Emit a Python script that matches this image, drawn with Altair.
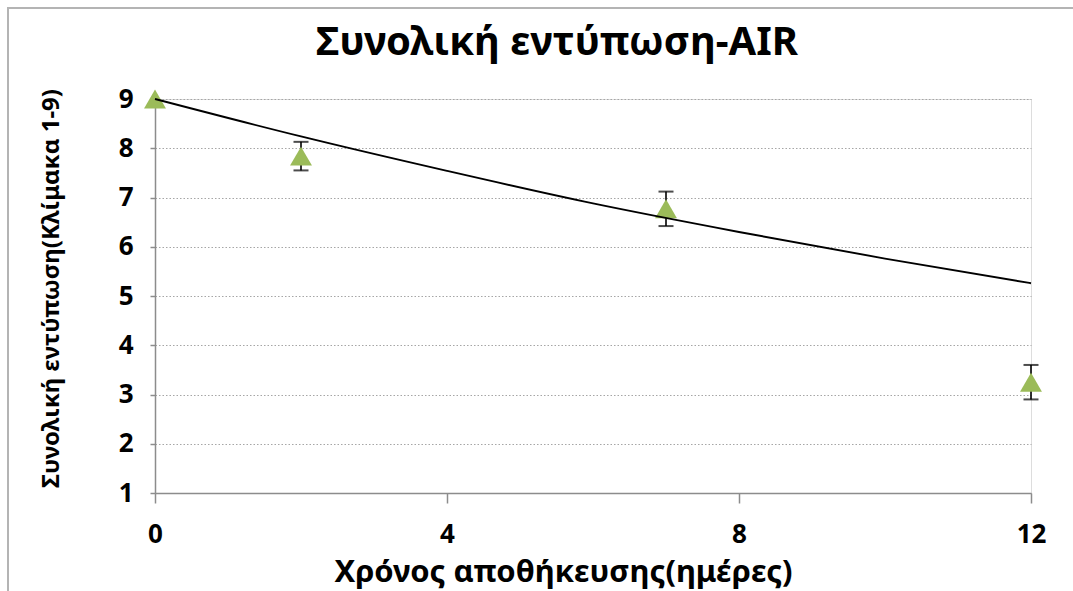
import altair as alt
import pandas as pd

# Storage time (days), mean overall-impression score and its error
days = [0, 2, 7, 12]
score = [9.0, 7.84, 6.77, 3.25]
err = [0.0, 0.29, 0.35, 0.35]

# Trend line readings
trend_days = [0, 2, 4, 6, 8, 10, 12]
trend_score = [9.0, 8.24, 7.54, 6.88, 6.30, 5.76, 5.26]

x_ticks = [0, 4, 8, 12]
y_ticks = [1, 2, 3, 4, 5, 6, 7, 8, 9]

FONT = "Noto Sans"
W, H = 876, 394
LEFT, TOP = 155, 99

pts = pd.DataFrame({"day": days, "score": score, "err": err})
trend = pd.DataFrame({"day": trend_days, "score": trend_score})

x_scale = alt.Scale(domain=[0, 12], nice=False, zero=False)
y_scale = alt.Scale(domain=[1, 9], nice=False, zero=False)

x_axis = alt.Axis(
    values=x_ticks, format="d", title="Χρόνος αποθήκευσης(ημέρες)", grid=False,
    domainColor="#8c8c8c", domainWidth=1.5, tickColor="#8c8c8c", tickWidth=1.5,
    tickSize=10, labelPadding=18, labelFlush=False, labelFont=FONT, labelFontSize=26,
    labelFontWeight="bold", labelColor="#000000",
    titleFont=FONT, titleFontSize=31, titleFontWeight="bold", titleColor="#000000",
    titleX=408, titleY=79, titleBaseline="middle", titleAlign="center",
)
y_axis = alt.Axis(
    values=y_ticks, format="d", title="Συνολική εντύπωση(Κλίμακα 1-9)", grid=True,
    gridColor="#a6a6a6", gridDash=[1.5, 2], gridWidth=1.2,
    domainColor="#8c8c8c", domainWidth=1.5, tickColor="#8c8c8c", tickWidth=1.5,
    tickSize=5, labelPadding=17, labelFont=FONT, labelFontSize=26,
    labelFontWeight="bold", labelColor="#000000",
    titleFont=FONT, titleFontSize=24, titleFontWeight="bold", titleColor="#000000",
    titleX=-104, titleY=H / 2 - 8, titleAngle=270, titleBaseline="middle",
    titleAlign="center",
)

base = alt.Chart(pts)

err_rule = base.transform_filter("datum.err > 0").transform_calculate(
    lo="datum.score - datum.err", hi="datum.score + datum.err"
).mark_rule(color="#000000", strokeWidth=1.6).encode(
    x=alt.X("day:Q", scale=x_scale, axis=x_axis),
    y=alt.Y("lo:Q", scale=y_scale, axis=y_axis),
    y2="hi:Q",
)

cap_lo = base.transform_filter("datum.err > 0").transform_calculate(
    lo="datum.score - datum.err"
).mark_tick(color="#000000", orient="horizontal", size=15, thickness=2).encode(
    x=alt.X("day:Q", scale=x_scale), y=alt.Y("lo:Q", scale=y_scale)
)
cap_hi = base.transform_filter("datum.err > 0").transform_calculate(
    hi="datum.score + datum.err"
).mark_tick(color="#000000", orient="horizontal", size=15, thickness=2).encode(
    x=alt.X("day:Q", scale=x_scale), y=alt.Y("hi:Q", scale=y_scale)
)

markers = base.mark_point(
    shape="triangle-up", filled=True, color="#9bbb59", opacity=1, size=480
).encode(x=alt.X("day:Q", scale=x_scale), y=alt.Y("score:Q", scale=y_scale))

trend_line = alt.Chart(trend).mark_line(
    color="#000000", strokeWidth=1.9, interpolate="monotone"
).encode(x=alt.X("day:Q", scale=x_scale), y=alt.Y("score:Q", scale=y_scale))

# Outer chart frame (left and top edges)
frame_left = alt.Chart(pts).mark_rule(color="#b4b4b4", strokeWidth=2).encode(
    x=alt.value(-LEFT + 8), y=alt.value(-TOP + 7), y2=alt.value(591 - TOP + 5)
)
frame_top = alt.Chart(pts).mark_rule(color="#b4b4b4", strokeWidth=2).encode(
    x=alt.value(-LEFT + 7), x2=alt.value(1073 - LEFT + 5), y=alt.value(-TOP + 8)
)

chart = alt.layer(
    frame_left, frame_top, err_rule, cap_lo, cap_hi, markers, trend_line
).properties(
    width=W, height=H,
    title=alt.Title(
        "Συνολική εντύπωση-AIR", frame="group", anchor="middle", dx=-36,
        offset=0, dy=89, baseline="alphabetic", font=FONT, fontSize=40,
        fontWeight="bold", color="#000000",
    ),
    autosize=alt.AutoSizeParams(type="none"),
    padding={"left": LEFT, "top": TOP, "right": 1073 - LEFT - W, "bottom": 591 - TOP - H},
).configure_view(stroke=None).configure(background="#ffffff")

chart.save("out.html", embed_options={"renderer": "svg", "actions": False})
